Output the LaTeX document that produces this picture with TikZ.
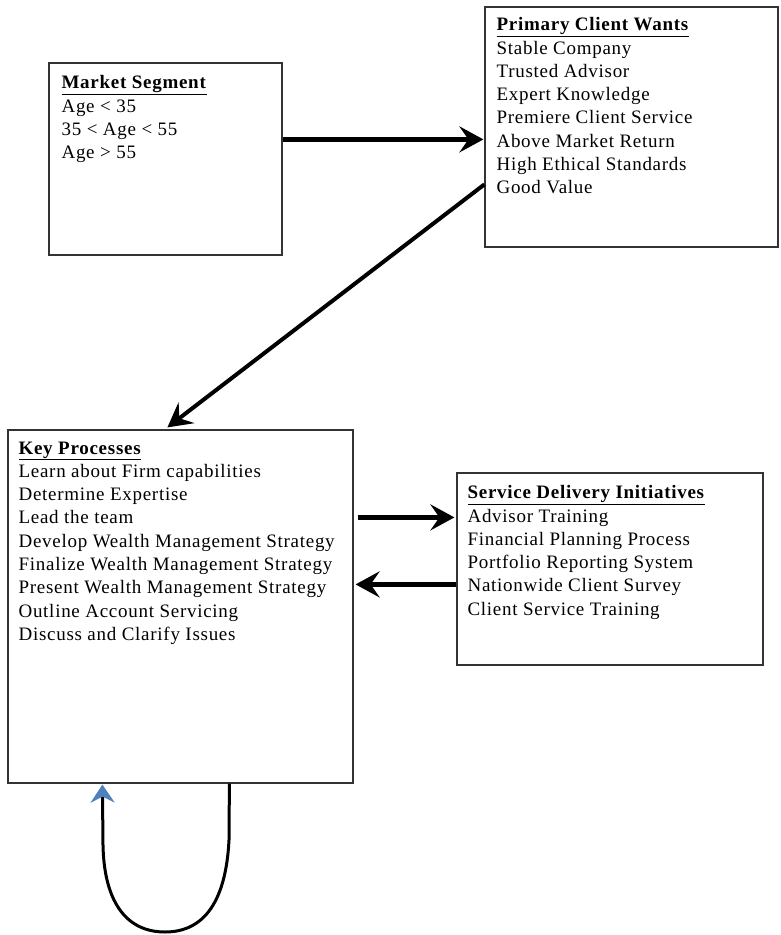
\documentclass[tikz,border=0pt]{standalone}
\usepackage{fontspec}
\setmainfont{Liberation Serif}[LetterSpace=3.8]
\usetikzlibrary{arrows.meta,calc}
\begin{document}
\begin{tikzpicture}[x=1pt,y=-1pt,
  box/.style={draw=black!80,line width=1.2pt,inner sep=0pt,minimum width=#1},
  txt/.style={anchor=north west,inner sep=0pt,align=left,font=\fontsize{19}{23.3}\selectfont},
  bigarrow/.style={line width=5pt,-{Stealth[length=24pt,width=26pt,inset=9pt]}},
  ]
\useasboundingbox (0,0) rectangle (781,935);
\node[box=233pt,minimum height=192pt] (ms) at (165.5,159) {};
\node[box=293pt,minimum height=240pt] (pcw) at (631.5,127) {};
\node[box=345pt,minimum height=353pt] (kp) at (180.5,606.5) {};
\node[box=306pt,minimum height=192pt] (sdi) at (610,569) {};

\node[txt] (mst) at ($(ms.north west)+(13,13)$) {\underline{\textbf{Market Segment}}\\Age < 35\\35 < Age < 55\\Age > 55};
\node[txt] (pcwt) at ($(pcw.north west)+(12,11)$) {\underline{\textbf{Primary Client Wants}}\\Stable Company\\Trusted Advisor\\Expert Knowledge\\Premiere Client Service\\Above Market Return\\High Ethical Standards\\Good Value};
\node[txt] (kpt) at ($(kp.north west)+(11,12)$) {\underline{\textbf{Key Processes}}\\Learn about Firm capabilities\\Determine Expertise\\Lead the team\\Develop Wealth Management Strategy\\Finalize Wealth Management Strategy\\Present Wealth Management Strategy\\Outline Account Servicing\\Discuss and Clarify Issues};
\node[txt] (sdit) at ($(sdi.north west)+(11,13)$) {\underline{\textbf{Service Delivery Initiatives}}\\Advisor Training\\Financial Planning Process\\Portfolio Reporting System\\Nationwide Client Survey\\Client Service Training};

\coordinate (a1s) at ($(ms.north east)+(0,77)$);
\coordinate (a1e) at ($(pcw.north west)+(-1,133)$);
\draw[bigarrow] (a1s) -- (a1e);
\coordinate (a2s) at ($(pcw.north west)+(0,178)$);
\coordinate (a2e) at ($(kp.north west)+(160,-2)$);
\draw[line width=4pt,-{Stealth[length=24pt,width=26pt,inset=9pt]}] (a2s) -- (a2e);
\coordinate (a3s) at ($(kp.north east)+(4,88)$);
\coordinate (a3e) at ($(sdi.north west)+(-2,45)$);
\draw[bigarrow] (a3s) -- (a3e);
\coordinate (a4s) at ($(sdi.north west)+(0,112)$);
\coordinate (a4e) at ($(kp.north east)+(2,155)$);
\draw[bigarrow] (a4s) -- (a4e);
\coordinate (l1) at ($(kp.south west)+(222,0)$);
\coordinate (l2) at ($(kp.south west)+(95,1)$);
\draw[line width=3pt,-{Stealth[length=18pt,width=24pt,inset=6pt,color={rgb,255:red,79;green,129;blue,189}]}]
  (l1) -- (229,840) .. controls (226,900) and (205,932) .. (165,932)
  .. controls (125,932) and (104,900) .. (103,845) -- (l2);
\end{tikzpicture}
\end{document}
